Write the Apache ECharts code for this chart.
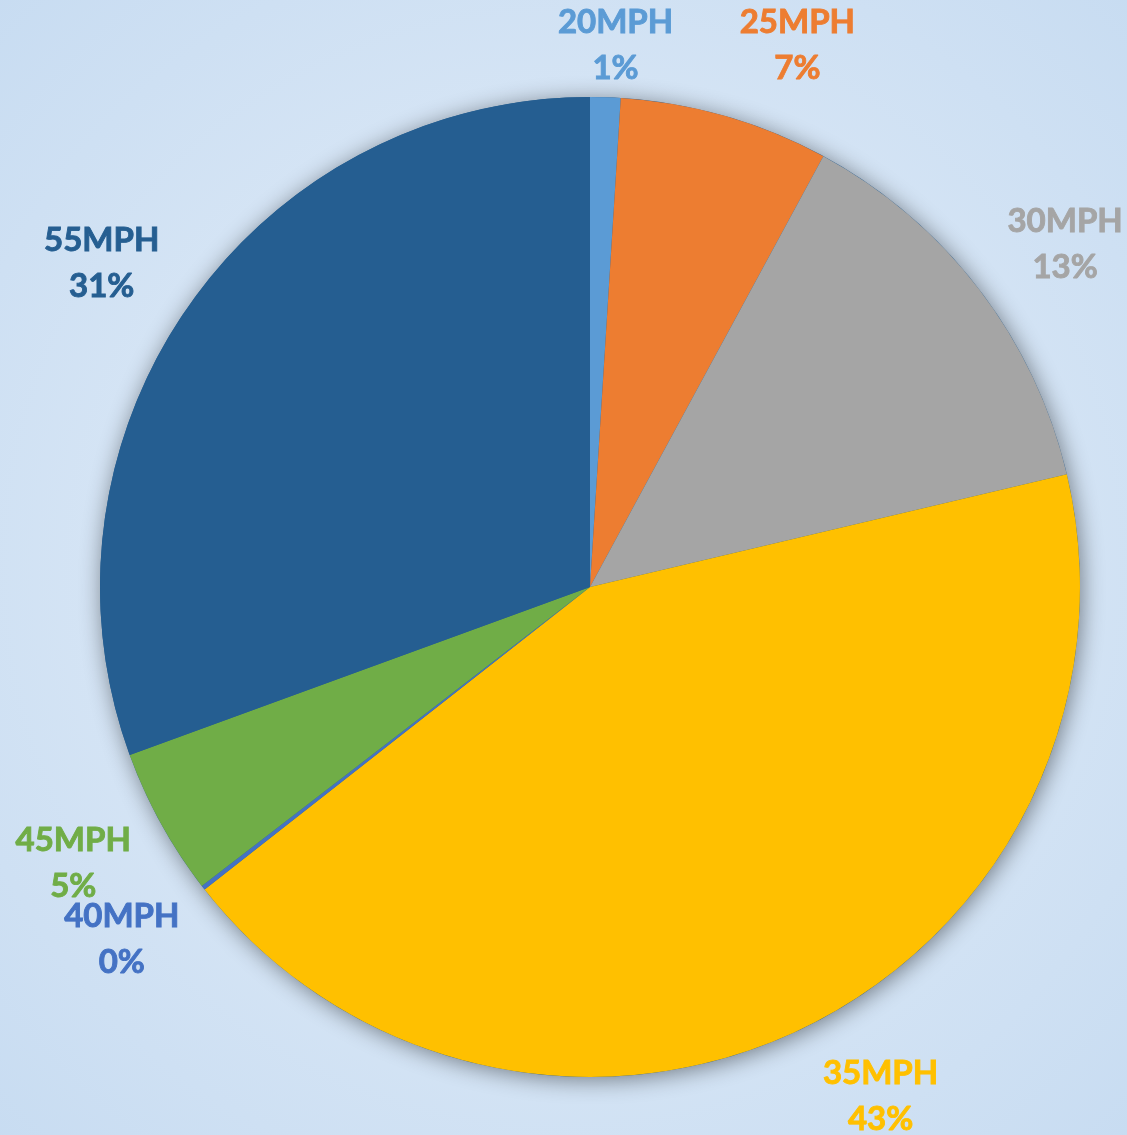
<!DOCTYPE html>
<html>
<head>
<meta charset="utf-8">
<script src="https://cdn.jsdelivr.net/npm/echarts@6/dist/echarts.min.js"></script>
<style>
html,body{margin:0;padding:0;}
#chart{width:1127px;height:1135px;}
</style>
</head>
<body>
<div id="chart"></div>
<script>
// ---- data ----
var categories = ['20MPH', '25MPH', '30MPH', '35MPH', '40MPH', '45MPH', '55MPH'];
var values = [1.0, 6.9, 13.4, 43.1, 0.15, 4.87, 30.57];
var colors = ['#5B9BD5', '#ED7D31', '#A5A5A5', '#FFC000', '#4472C4', '#70AD47', '#255E91'];

// ---- layout (label placement, separate from data) ----
var CX = 590, CY = 587, R = 490;
var LABEL_DIST = 586;
var labelAngleNudge = [0.7, 4.7, 1.6, -4, 0.9, 0.7, -1.4]; // degrees
var W = 1127, H = 1135;

var total = values.reduce(function (a, b) { return a + b; }, 0);
var midAngles = [];
(function () {
  var acc = 0;
  for (var i = 0; i < values.length; i++) {
    midAngles.push((acc + values[i] / 2) / total * 2 * Math.PI);
    acc += values[i];
  }
})();

var chart = echarts.init(document.getElementById('chart'), null, {renderer: 'canvas'});

var option = {
  backgroundColor: {
    type: 'radial', x: 0.5, y: 0.5, r: 0.75,
    colorStops: [
      {offset: 0, color: '#e6eff9'},
      {offset: 1, color: '#c6dbf1'}
    ]
  },
  animation: false,
  series: [
    {
      type: 'pie',
      silent: true,
      center: [CX, CY],
      radius: R,
      label: {show: false},
      labelLine: {show: false},
      itemStyle: {
        color: '#255E91',
        shadowBlur: 22,
        shadowColor: 'rgba(0,0,0,0.45)',
        shadowOffsetX: 2,
        shadowOffsetY: 3
      },
      data: [{value: total, name: 'all'}],
      z: 1
    },
    {
      type: 'pie',
      center: [CX, CY],
      radius: R,
      startAngle: 90,
      clockwise: true,
      avoidLabelOverlap: false,
      percentPrecision: 0,
      z: 2,
      itemStyle: {borderWidth: 0},
      label: {
        show: true,
        position: 'outside',
        formatter: '{b}\n{d}%',
        fontFamily: 'Lato',
        fontWeight: 'bold',
        fontSize: 33,
        lineHeight: 46,
        align: 'center',
        textBorderWidth: 0.9
      },
      labelLine: {show: false},
      labelLayout: function (params) {
        var i = params.dataIndex;
        var a = midAngles[i] + labelAngleNudge[i] * Math.PI / 180;
        var h = params.labelRect.height;
        var x = CX + LABEL_DIST * Math.sin(a);
        var y = CY - LABEL_DIST * Math.cos(a);
        y = Math.max(y, h / 2 - 1);
        y = Math.min(y, H - h / 2 + 7);
        return {x: x, y: y, align: 'center', verticalAlign: 'middle'};
      },
      data: categories.map(function (c, i) {
        return {
          name: c,
          value: values[i],
          itemStyle: {color: colors[i]},
          label: {color: colors[i], textBorderColor: colors[i]}
        };
      })
    }
  ]
};
chart.setOption(option);
</script>
</body>
</html>
